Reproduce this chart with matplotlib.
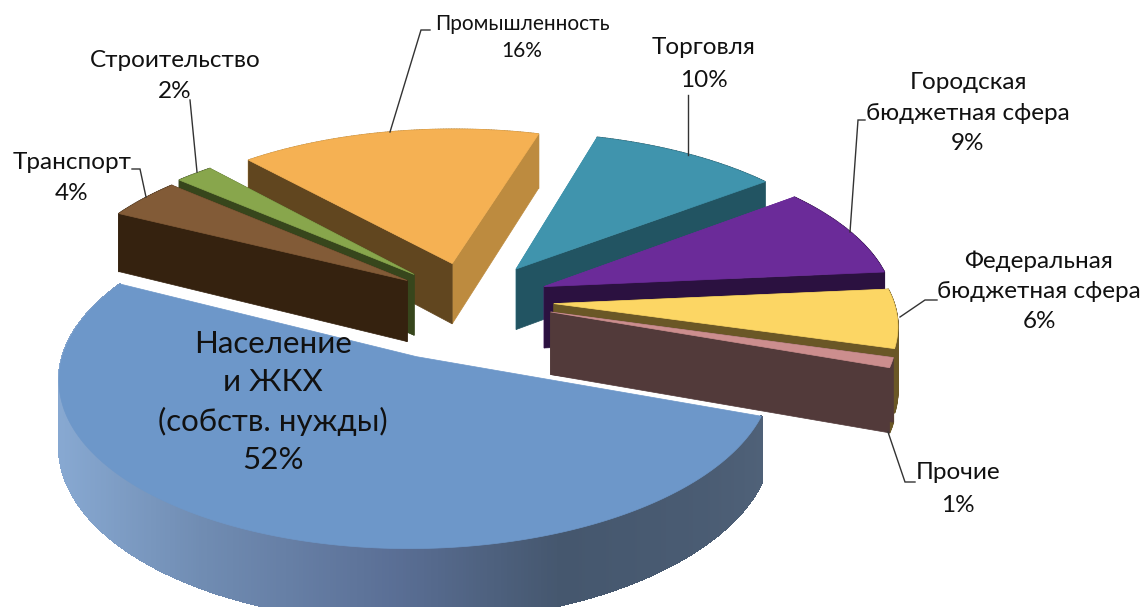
#!/usr/bin/env python
# exploded 3D pie drawn by hand on a pixel sized axes

import numpy as np
import matplotlib
matplotlib.use("Agg")
import matplotlib.pyplot as plt
from matplotlib.patches import Polygon
from matplotlib.collections import PolyCollection

plt.rcParams['font.family'] = ['Lato', 'DejaVu Sans']

# data, clockwise starting from the blue slice
names = ["Население", "Транспорт", "Строительство", "Промышленность", "Торговля",
         "Городская", "Федеральная", "Прочие"]
values = [52, 4, 2, 16, 10, 9, 6, 1]

# styles, same order
explode = [0.37, 0.22, 0.23, 0.24, 0.24, 0.23, 0.24, 0.24]
radius = [0.97, 1, 1, 0.99, 1, 1, 0.97, 0.97]
top_colors = ["#6D97C9", "#825B37", "#88A64C", "#F5B153", "#4094AD", "#6B2B99", "#FCD664", "#CC8E8E"]
start_walls = ["#4A5C73", "#35220F", "#37461C", "#61461F", "#4094AD", "#6B2B99", "#6A5726", "#523A3A"]
end_walls = ["#4A5C73", "#35220F", "#37461C", "#BD8B3F", "#225462", "#2B1140", "#6A5726", "#523A3A"]
rim_colors = ["#4A5C73", "#35220F", "#37461C", "#BD8B3F", "#225462", "#2B1140", "#6A5726", "#6A5726"]
draw_order = [3, 4, 2, 1, 5, 6, 7, 0]

# gradient of the blue outer wall, by screen x
blue_x = [60, 200, 400, 560, 700, 760]
blue_r = [0.53, 0.44, 0.35, 0.27, 0.29, 0.31]
blue_g = [0.66, 0.55, 0.43, 0.34, 0.36, 0.38]
blue_b = [0.82, 0.70, 0.58, 0.43, 0.45, 0.47]

# pie geometry in pixels
cx, cy = 470, 300
a, b = 350, 160
persp = 0.12
depth = 62
first_angle = -19.8

# labels: text lines, x, y, size
labels = [
    ("Население\nи ЖКХ\n(собств. нужды)\n52%", 273, 402, 22.5, 1.45),
    ("Транспорт\n4%", 72, 178, 17.5, 1.55),
    ("Строительство\n2%", 175, 76, 17.5, 1.55),
    ("Промышленность", 522, 24, 15, 1.2),
    ("16%", 522, 51, 15, 1.2),
    ("Торговля\n10%", 704, 64, 17.5, 1.7),
    ("Городская\nбюджетная сфера\n9%", 968, 113, 17.5, 1.53),
    ("Федеральная\nбюджетная сфера\n6%", 1039, 291, 17.5, 1.53),
    ("Прочие\n1%", 958, 489, 17.5, 1.65),
]
leaders = [
    ([132, 140, 146], [169, 169, 197]),
    ([190, 197], [100, 172]),
    ([430, 421, 390], [30, 30, 132]),
    ([688, 688], [95, 155]),
    ([865, 858, 850], [120, 120, 232]),
    ([937, 925, 900], [300, 300, 317]),
    ([888, 905, 915], [432, 482, 482]),
]


def project(x, y, z):
    w = 1 + persp * y
    return cx + a * x / w, cy + (-b * y + depth * z) / w


def wall(p, q, off, color):
    # p and q are plane points, off is the explode shift
    x1, y1 = project(p[0] + off[0], p[1] + off[1], 0)
    x2, y2 = project(q[0] + off[0], q[1] + off[1], 0)
    x3, y3 = project(q[0] + off[0], q[1] + off[1], 1)
    x4, y4 = project(p[0] + off[0], p[1] + off[1], 1)
    return Polygon([(x1, y1), (x2, y2), (x3, y3), (x4, y4)], closed=True,
                   facecolor=color, edgecolor=color, linewidth=0.5)


fig = plt.figure(figsize=(11.44, 6.07), dpi=100)
ax = fig.add_axes([0, 0, 1, 1])
ax.set_xlim(0, 1144)
ax.set_ylim(607, 0)
ax.axis("off")

# angles come from the values, going clockwise
total = float(sum(values))
spans = [v / total * 360 for v in values]
starts = [first_angle - sum(spans[:i]) for i in range(len(values))]

for i in draw_order:
    r = radius[i]
    t0 = np.radians(starts[i])
    t1 = np.radians(starts[i] - spans[i])
    mid = (t0 + t1) / 2
    off = (explode[i] * np.cos(mid), explode[i] * np.sin(mid))
    ts = np.linspace(t0, t1, max(int(spans[i] * 2), 6))

    # rim wall first
    strips = []
    cols = []
    for j in range(len(ts) - 1):
        px, py = r * np.cos(ts[j]) + off[0], r * np.sin(ts[j]) + off[1]
        qx, qy = r * np.cos(ts[j + 1]) + off[0], r * np.sin(ts[j + 1]) + off[1]
        p1 = project(px, py, 0)
        p2 = project(qx, qy, 0)
        p3 = project(qx, qy, 1)
        p4 = project(px, py, 1)
        strips.append([p1, p2, p3, p4])
        if i == 0:
            xm = (p1[0] + p2[0]) / 2
            cols.append((np.interp(xm, blue_x, blue_r), np.interp(xm, blue_x, blue_g), np.interp(xm, blue_x, blue_b)))
        else:
            cols.append(rim_colors[i])
    ax.add_collection(PolyCollection(strips, facecolors=cols, edgecolors=cols, linewidths=1.0,
                                     antialiaseds=(i != 0)))

    # radial walls, the nearer one goes last
    p_start = (r * np.cos(t0), r * np.sin(t0))
    p_end = (r * np.cos(t1), r * np.sin(t1))
    w_start = wall((0, 0), p_start, off, start_walls[i])
    w_end = wall((0, 0), p_end, off, end_walls[i])
    if i != 0:
        if np.sin(t0) < np.sin(t1):
            ax.add_patch(w_end)
            ax.add_patch(w_start)
        else:
            ax.add_patch(w_start)
            ax.add_patch(w_end)

    # top face
    xs, ys = project(np.r_[0, r * np.cos(ts)] + off[0], np.r_[0, r * np.sin(ts)] + off[1], 0)
    ax.add_patch(Polygon(np.column_stack([xs, ys]), closed=True, facecolor=top_colors[i],
                         edgecolor=top_colors[i], linewidth=0.5))

for lx, ly in leaders:
    ax.plot(lx, ly, color="#333333", lw=1.0, solid_joinstyle="miter")

for txt, x, y, size, sp in labels:
    ax.text(x, y, txt, ha="center", va="center", fontsize=size, color="#111111", linespacing=sp)

fig.savefig("out.png", dpi=100)
